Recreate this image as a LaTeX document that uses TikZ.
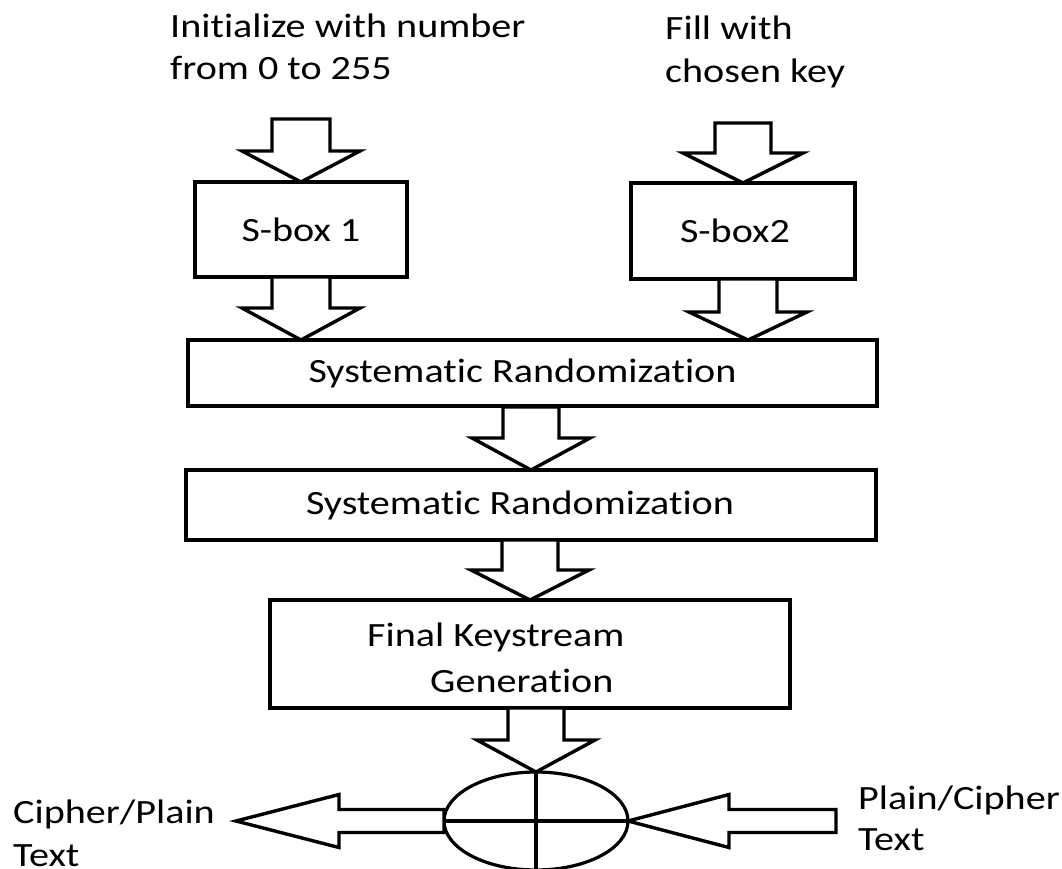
\documentclass[tikz,border=0pt]{standalone}
\usepackage{fontspec}
\setmainfont[FakeStretch=1.18, Ligatures={NoCommon}]{Carlito}
\usetikzlibrary{calc,shapes.geometric}

\tikzset{
  blk/.style={draw, line width=3.2pt, rectangle, inner sep=0pt, outer sep=0pt,
              font=\fontsize{34}{40}\selectfont},
  lbl/.style={font=\fontsize{34}{40}\selectfont, inner sep=0pt, anchor=base west},
  barrow/.style={draw, line width=3.4pt, fill=white, line join=miter},
}

% hollow block arrow pointing down: tip, length, shaft half width, head half width, head length
\newcommand\blockdown[5]{%
  \draw[barrow] ($(#1)+(-#3,-#2)$) -- ($(#1)+(#3,-#2)$) -- ($(#1)+(#3,-#5)$)
    -- ($(#1)+(#4,-#5)$) -- (#1) -- ($(#1)+(-#4,-#5)$) -- ($(#1)+(-#3,-#5)$) -- cycle;}
% hollow block arrow pointing left: tip, length, shaft half width, head half width, head length
\newcommand\blockleft[5]{%
  \draw[barrow] (#1) -- ($(#1)+(#5,-#4)$) -- ($(#1)+(#5,-#3)$) -- ($(#1)+(#2,-#3)$)
    -- ($(#1)+(#2,#3)$) -- ($(#1)+(#5,#3)$) -- ($(#1)+(#5,#4)$) -- cycle;}

\begin{document}
\begin{tikzpicture}[x=1pt,y=-1pt]
\useasboundingbox (0,0) rectangle (1062,868);

% input labels
\node[lbl] (init1) at (170,37) {Initialize with number};
\node[lbl] (init2) at (170,79) {from 0 to 255};
\node[lbl] (fill1) at (665,39) {Fill with};
\node[lbl] (fill2) at (665,82) {chosen key};

% processing blocks
\node[blk, minimum width=212pt, minimum height=95pt] (sb1) at (301,229.5) {S-box 1};
\node[blk, minimum width=224pt, minimum height=96pt] (sb2) at (743,231) {\hspace*{-16pt}S-box2};
\node[blk, minimum width=689pt, minimum height=66pt] (sr1) at (532.5,373) {\hspace*{-20pt}Systematic Randomization};
\node[blk, minimum width=690pt, minimum height=70pt] (sr2) at (531,505) {\hspace*{-22pt}Systematic Randomization};
\node[blk, minimum width=520pt, minimum height=108pt] (fk) at (530,654) {};
\node[lbl] (fk1) at (367,646) {Final Keystream};
\node[lbl] (fk2) at (430,692) {Generation};

% XOR combiner
\node[draw, line width=3.2pt, ellipse, inner sep=0pt, outer sep=0pt,
      minimum width=184pt, minimum height=98pt] (xor) at (536,821) {};
\draw[line width=3.2pt] (xor.north) -- (xor.south);
\draw[line width=3.2pt] (xor.west) -- (xor.east);

% flow arrows
\blockdown{sb1.north}{63}{29}{59}{31}
\blockdown{sb2.north}{60}{28}{60}{30}
\coordinate (t3) at (sb1 |- sr1.north);
\blockdown{t3}{63}{29}{59}{32}
\coordinate (t4) at ($(sb2 |- sr1.north)+(5,0)$);
\blockdown{t4}{61}{29}{59}{28}
\blockdown{sr2.north}{63}{28}{59}{32}
\blockdown{fk.north}{60}{28}{59}{30}
\blockdown{xor.north}{64}{28}{59}{32}

% output and input text arrows
\coordinate (outtip) at (236,821);
\blockleft{outtip}{208}{11.5}{26.5}{103}
\blockleft{xor.east}{208}{11.5}{26.5}{101}

\node[lbl] (out1) at (13,823) {Cipher/Plain};
\node[lbl] (out2) at (13,866) {Text};
\node[lbl] (in1) at (858,809) {Plain/Cipher};
\node[lbl] (in2) at (858,850) {Text};
\end{tikzpicture}
\end{document}
